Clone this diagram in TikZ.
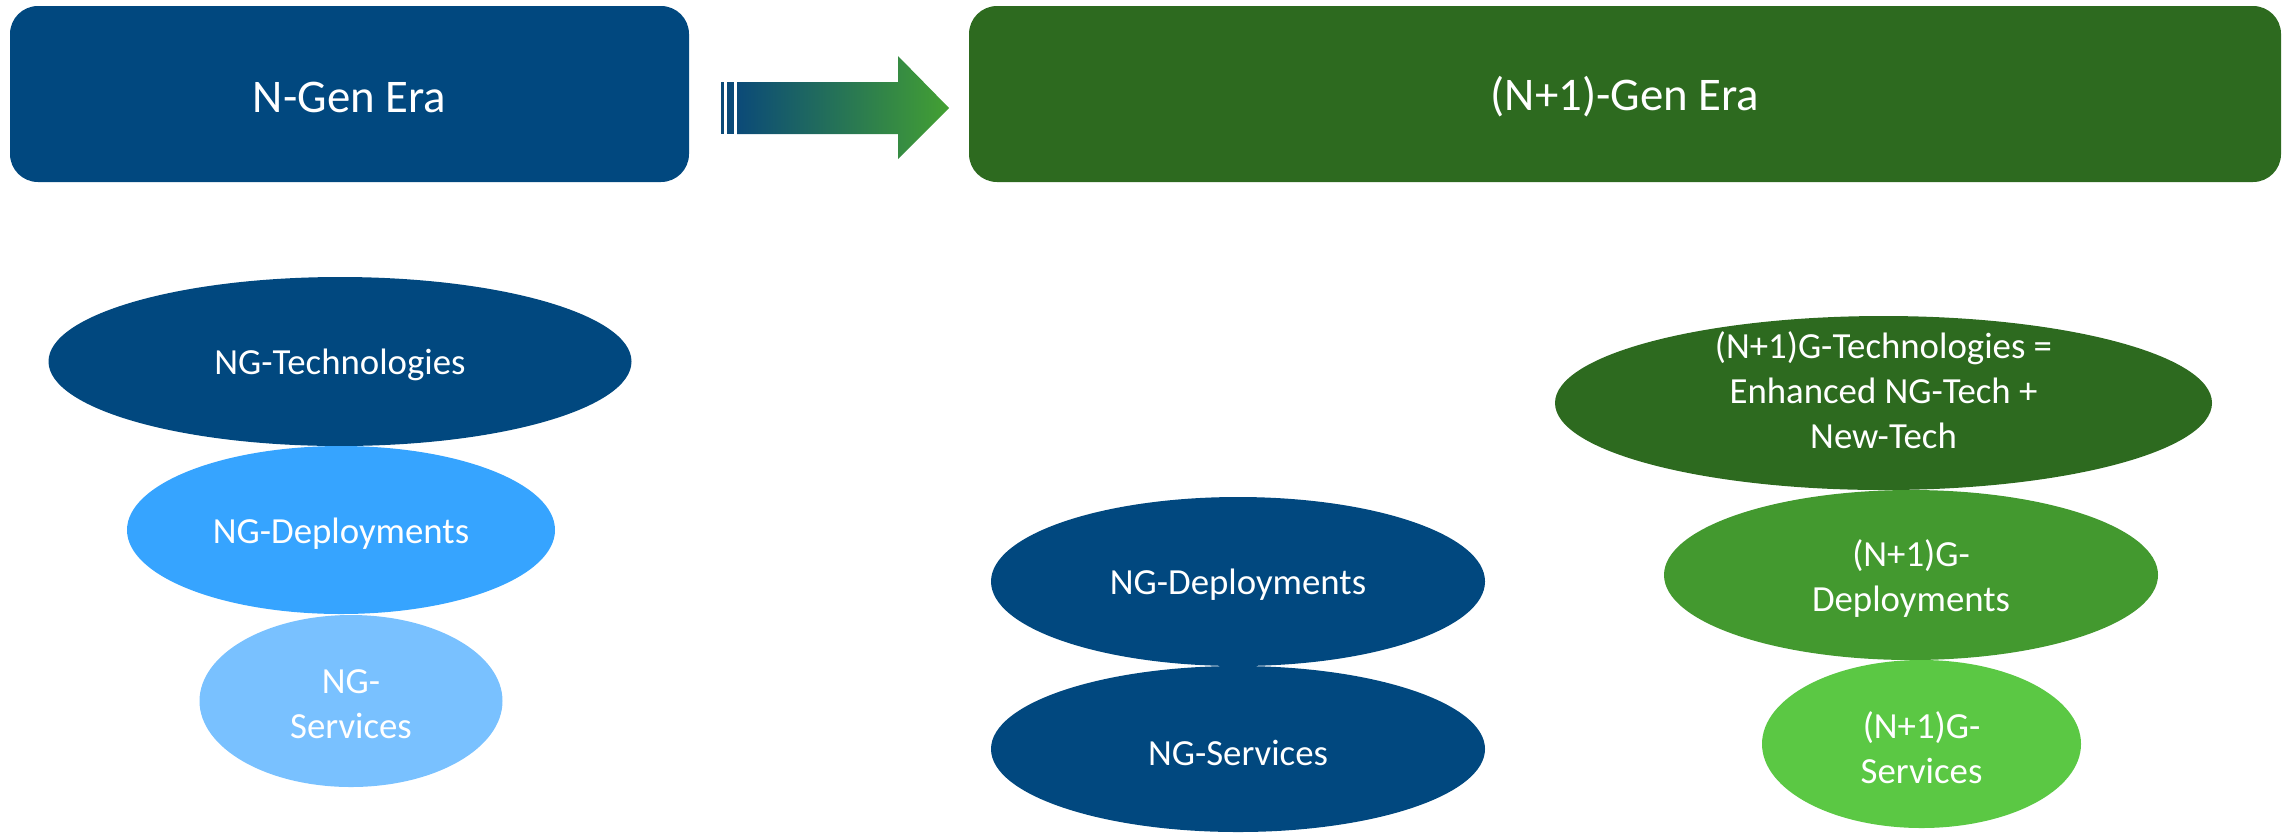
\documentclass[tikz,border=0pt]{standalone}
\usepackage{fontspec}
\setmainfont{Carlito}
\usetikzlibrary{shapes.geometric}
\definecolor{navy}{HTML}{01487F}
\definecolor{forest}{HTML}{2D6A1F}
\definecolor{leaf}{HTML}{43992F}
\definecolor{lime}{HTML}{5BC844}
\definecolor{sky}{HTML}{36A4FF}
\definecolor{pale}{HTML}{79C1FF}
\definecolor{arrowstart}{HTML}{0B4A78}
\definecolor{arrowend}{HTML}{43A032}
\tikzset{
  erabox/.style={rectangle, rounded corners=14pt, inner sep=0pt, minimum height=88pt},
  eratext/.style={text=white, font=\fontsize{23.4}{28}\selectfont, yshift=-1.5pt},
  ell/.style={ellipse, inner sep=0pt},
  etext/.style={text=white, align=center, font=\fontsize{18.4}{22.5}\selectfont, yshift=-1.8pt}
}
\begin{document}
\begin{tikzpicture}[x=0.5pt,y=-0.5pt]
\useasboundingbox (0,0) rectangle (2285,832);

% era headers
\node[erabox, fill=navy, minimum width=339.5pt] (ngen) at (349.5,94) {};
\node[erabox, fill=forest, minimum width=656pt] (nextgen) at (1625,94) {};
\node[eratext] at (ngen) {N-Gen Era};
\node[eratext] at (nextgen) {(N+1)-Gen Era};

% transition arrow with split tail
\fill[arrowstart] (721,82) rectangle (724,134);
\fill[arrowstart] (727,82) rectangle (733.5,134);
\shade[left color=arrowstart, right color=arrowend]
  (737,82) -- (898,82) -- (898,56) -- (949,108) -- (898,159) -- (898,134) -- (737,134) -- cycle;

% N generation stack
\node[ell, fill=navy, minimum width=291.5pt, minimum height=84.5pt] (ntech) at (340,361.5) {};
\node[ell, fill=sky, minimum width=214pt, minimum height=84pt] (ndep) at (341,530) {};
\node[ell, fill=pale, minimum width=151.5pt, minimum height=86pt] (nserv) at (351,701) {};
\node[etext] at (ntech) {NG-Technologies};
\node[etext] at (ndep) {NG-Deployments};
\node[etext] at (nserv) {NG-\\Services};

% carried-over N generation layers
\node[ell, fill=navy, minimum width=247pt, minimum height=84.5pt] (cdep) at (1238,581.5) {};
\node[ell, fill=navy, minimum width=247pt, minimum height=83pt] (cserv) at (1238,749) {};
\node[etext] at (cdep) {NG-Deployments};
\node[etext] at (cserv) {NG-Services};

% N+1 generation stack
\node[ell, fill=forest, minimum width=328.5pt, minimum height=87pt] (mtech) at (1883.5,403) {};
\node[ell, fill=leaf, minimum width=247pt, minimum height=85pt] (mdep) at (1911,575) {};
\node[ell, fill=lime, minimum width=159.5pt, minimum height=84pt] (mserv) at (1921.5,744) {};
\node[etext, yshift=8pt] at (mtech) {(N+1)G-Technologies =\\Enhanced NG-Tech +\\New-Tech};
\node[etext] at (mdep) {(N+1)G-\\Deployments};
\node[etext] at (mserv) {(N+1)G-\\Services};
\end{tikzpicture}
\end{document}
